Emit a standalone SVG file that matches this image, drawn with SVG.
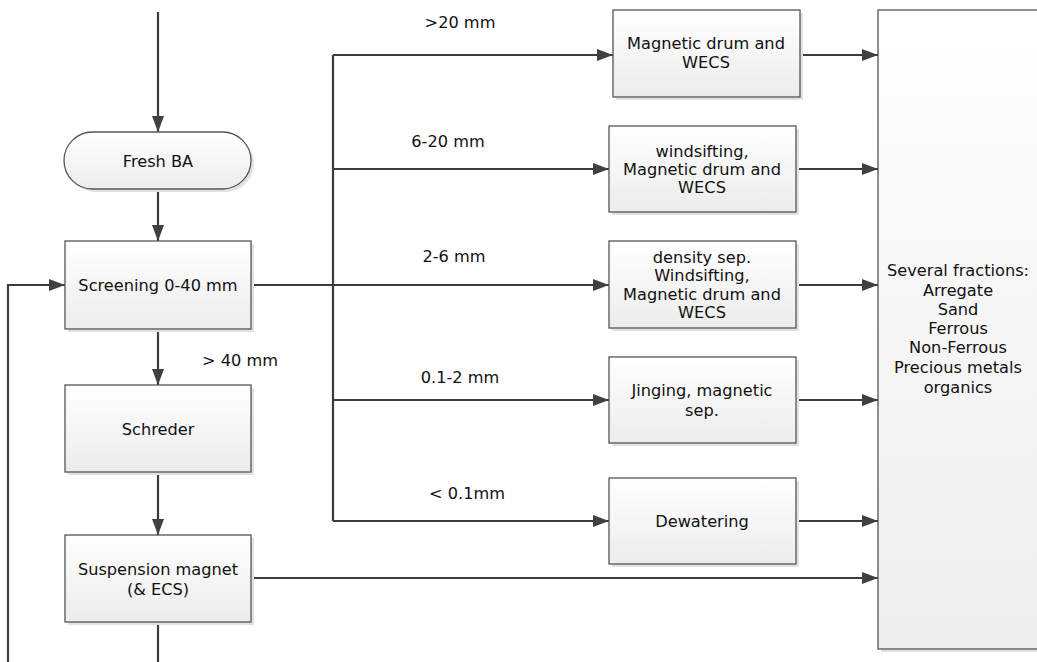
<svg xmlns="http://www.w3.org/2000/svg" width="1037" height="662" viewBox="0 0 1037 662">
  <defs>
    <linearGradient id="boxFill" x1="0" y1="0" x2="0" y2="1">
      <stop offset="0" stop-color="#ffffff"/>
      <stop offset="1" stop-color="#ececec"/>
    </linearGradient>
    <linearGradient id="tallFill" x1="0" y1="0" x2="0" y2="1">
      <stop offset="0" stop-color="#ffffff"/>
      <stop offset="0.5" stop-color="#f6f6f6"/>
      <stop offset="1" stop-color="#eeeeee"/>
    </linearGradient>
    <marker id="arrow" viewBox="0 0 16 12" refX="16" refY="6" markerWidth="16" markerHeight="12" markerUnits="userSpaceOnUse" orient="auto">
      <path d="M0,0 L16,6 L0,12 Z" fill="#404040"/>
    </marker>
  </defs>
  <style>
    .box { fill: url(#boxFill); stroke: #555555; stroke-width: 1.3; }
    .tall { fill: url(#tallFill); stroke: #555555; stroke-width: 1.3; }
    .shadow { fill: #e2e2e2; stroke: none; }
    .line { fill: none; stroke: #3c3c3c; stroke-width: 2.2; }
    .arr { marker-end: url(#arrow); }
    text { font-family: "DejaVu Sans", "Liberation Sans", sans-serif; font-size: 16.2px; fill: #111111; text-anchor: middle; }
  </style>

  <rect width="1037" height="662" fill="#ffffff"/>

  <!-- connectors -->
  <g id="connectors">
    <path class="line arr" d="M158,12 V132"/>
    <path class="line arr" d="M158,189 V241"/>
    <path class="line arr" d="M158,329 V385"/>
    <path class="line arr" d="M158,472 V535"/>
    <path class="line" d="M158,622 V662"/>
    <!-- recirculation loop back into screening -->
    <path class="line arr" d="M8,662 V285 H65"/>
    <!-- screening undersize distribution bus -->
    <path class="line" d="M251,285 H333"/>
    <path class="line" d="M333,55 V521"/>
    <path class="line arr" d="M333,55 H613"/>
    <path class="line arr" d="M333,169 H609"/>
    <path class="line arr" d="M333,285 H609"/>
    <path class="line arr" d="M333,400 H609"/>
    <path class="line arr" d="M333,521 H609"/>
    <!-- outputs to fractions -->
    <path class="line arr" d="M800,55 H878"/>
    <path class="line arr" d="M796,169 H878"/>
    <path class="line arr" d="M796,285 H878"/>
    <path class="line arr" d="M796,400 H878"/>
    <path class="line arr" d="M796,521 H878"/>
    <path class="line arr" d="M251,578 H878"/>
    <!-- branch labels -->
    <text x="240" y="366">&gt; 40 mm</text>
    <text x="460" y="28">&gt;20 mm</text>
    <text x="448" y="147">6-20 mm</text>
    <text x="454" y="262">2-6 mm</text>
    <text x="460" y="383">0.1-2 mm</text>
    <text x="467" y="499">&lt; 0.1mm</text>
  </g>

  <g id="fresh-ba">
    <rect class="shadow" x="67" y="135" width="187" height="57" rx="28.5"/>
    <rect class="box" x="64" y="132" width="187" height="57" rx="28.5"/>
    <text x="158" y="167">Fresh BA</text>
  </g>

  <g id="screening">
    <rect class="shadow" x="68" y="244" width="186" height="88"/>
    <rect class="box" x="65" y="241" width="186" height="88"/>
    <text x="158" y="291">Screening 0-40 mm</text>
  </g>

  <g id="schreder">
    <rect class="shadow" x="68" y="388" width="186" height="87"/>
    <rect class="box" x="65" y="385" width="186" height="87"/>
    <text x="158" y="435">Schreder</text>
  </g>

  <g id="suspension-magnet">
    <rect class="shadow" x="68" y="538" width="186" height="87"/>
    <rect class="box" x="65" y="535" width="186" height="87"/>
    <text x="158" y="575">Suspension magnet</text>
    <text x="158" y="595">(&amp; ECS)</text>
  </g>

  <g id="magnetic-drum">
    <rect class="shadow" x="616" y="13" width="187" height="87"/>
    <rect class="box" x="613" y="10" width="187" height="87"/>
    <text x="706" y="49">Magnetic drum and</text>
    <text x="706" y="68">WECS</text>
  </g>

  <g id="windsifting">
    <rect class="shadow" x="612" y="129" width="187" height="86"/>
    <rect class="box" x="609" y="126" width="187" height="86"/>
    <text x="702" y="157">windsifting,</text>
    <text x="702" y="175">Magnetic drum and</text>
    <text x="702" y="193">WECS</text>
  </g>

  <g id="density-sep">
    <rect class="shadow" x="612" y="244" width="187" height="87"/>
    <rect class="box" x="609" y="241" width="187" height="87"/>
    <text x="702" y="263">density sep.</text>
    <text x="702" y="281">Windsifting,</text>
    <text x="702" y="300">Magnetic drum and</text>
    <text x="702" y="318">WECS</text>
  </g>

  <g id="jinging">
    <rect class="shadow" x="612" y="360" width="187" height="86"/>
    <rect class="box" x="609" y="357" width="187" height="86"/>
    <text x="702" y="396">Jinging, magnetic</text>
    <text x="702" y="416">sep.</text>
  </g>

  <g id="dewatering">
    <rect class="shadow" x="612" y="481" width="187" height="86"/>
    <rect class="box" x="609" y="478" width="187" height="86"/>
    <text x="702" y="527">Dewatering</text>
  </g>

  <g id="fractions">
    <rect class="shadow" x="881" y="13" width="160" height="639"/>
    <rect class="tall" x="878" y="10" width="170" height="639"/>
    <text x="958" y="276">Several fractions:</text>
    <text x="958" y="296">Arregate</text>
    <text x="958" y="315">Sand</text>
    <text x="958" y="334">Ferrous</text>
    <text x="958" y="353">Non-Ferrous</text>
    <text x="958" y="373">Precious metals</text>
    <text x="958" y="393">organics</text>
  </g>
</svg>
